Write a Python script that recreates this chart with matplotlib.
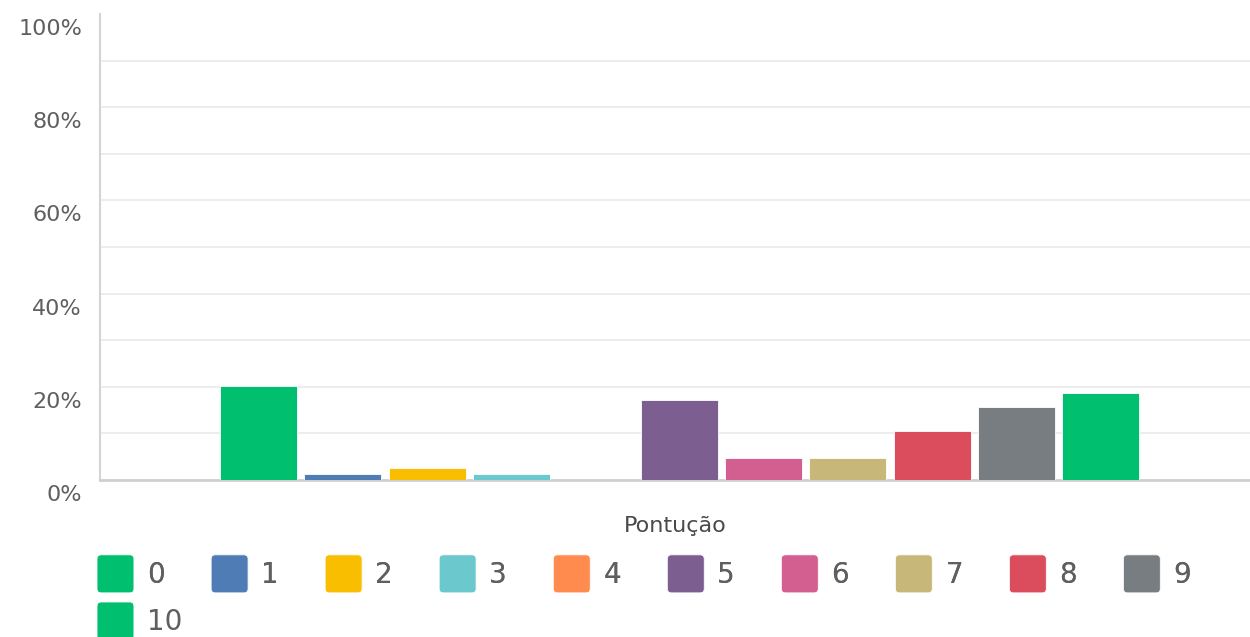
import numpy as np
import matplotlib
matplotlib.use("Agg")
import matplotlib.pyplot as plt
from matplotlib.patches import Rectangle, FancyBboxPatch
from matplotlib.legend_handler import HandlerPatch
from matplotlib.transforms import ScaledTranslation

# ---- data ----------------------------------------------------------
scores = ["0", "1", "2", "3", "4", "5", "6", "7", "8", "9", "10"]
percent = [20.2, 1.2, 2.6, 1.2, 0.0, 17.2, 4.7, 4.7, 10.6, 15.7, 18.7]
colors = ["#00BF6F", "#507CB6", "#F9BE00", "#6BC8CD", "#FF8B4F", "#7D5E90",
          "#D25F90", "#C7B879", "#DB4D5C", "#787D82", "#00BF6F"]
y_ticks = [0, 20, 40, 60, 80, 100]
y_tick_labels = ["0%", "20%", "40%", "60%", "80%", "100%"]
x_label = "Pontução"

plt.rcParams['font.family'] = ['DejaVu Sans']
TEXT = "#5f5f5f"

fig = plt.figure(figsize=(12.5, 6.37), dpi=100)
ax = fig.add_axes([0.08, 0.2465, 0.92, 0.7315])

# ---- bars: one group, one series per score -------------------------
n = len(scores)
slot = 0.0732
bar_w = 0.067
offsets = (np.arange(n) - (n - 1) / 2) * slot
handles = []
for off, val, col, lab in zip(offsets, percent, colors, scores):
    b = ax.bar(off, val, bar_w, color=col, label=lab,
               edgecolor="white", linewidth=0.6, zorder=3)
    handles.append(b[0])

ax.set_xlim(-0.504, 0.496)
ax.set_ylim(0, 100)

# ---- axes styling --------------------------------------------------
ax.set_yticks(y_ticks)
ax.set_yticklabels(y_tick_labels)
ax.set_yticks(np.arange(10, 100, 20), minor=True)
ax.set_xticks([])
ax.tick_params(axis='y', which='both', length=0, pad=13,
               labelsize=16, labelcolor=TEXT)
ax.grid(axis='y', which='both', color="#ececec", linewidth=1.3, zorder=0)
ax.get_ygridlines()[-1].set_visible(False)
for lbl in ax.get_yticklabels():
    lbl.set_transform(lbl.get_transform()
                      + ScaledTranslation(0, -13 / 100, fig.dpi_scale_trans))

for s in ("top", "right"):
    ax.spines[s].set_visible(False)
ax.spines["left"].set_color("#d4d4d4")
ax.spines["left"].set_linewidth(1.5)
ax.spines["bottom"].set_color("#cfcfcf")
ax.spines["bottom"].set_linewidth(2)

ax.set_xlabel(x_label, fontsize=16, color="#4a4a4a", labelpad=26)


# ---- legend with rounded swatches ----------------------------------
def rounded_swatch(legend, orig_handle, xdescent, ydescent, width, height, fontsize):
    return FancyBboxPatch((-xdescent, -ydescent), width, height,
                          boxstyle="round,pad=0,rounding_size=3")


hmap = {Rectangle: HandlerPatch(patch_func=rounded_swatch)}
leg_kw = dict(loc="upper left", frameon=False, borderpad=0, borderaxespad=0,
              fontsize=20, handlelength=1.33, handleheight=1.73,
              handletextpad=0.47, columnspacing=1.67, labelcolor=TEXT,
              handler_map=hmap)
leg1 = fig.legend(handles[:10], scores[:10], ncol=10,
                  bbox_to_anchor=(0.0776, 0.129), **leg_kw)
fig.add_artist(leg1)
fig.legend(handles[10:], scores[10:], ncol=1,
           bbox_to_anchor=(0.0776, 0.055), **leg_kw)

fig.savefig("out.png", dpi=100)
